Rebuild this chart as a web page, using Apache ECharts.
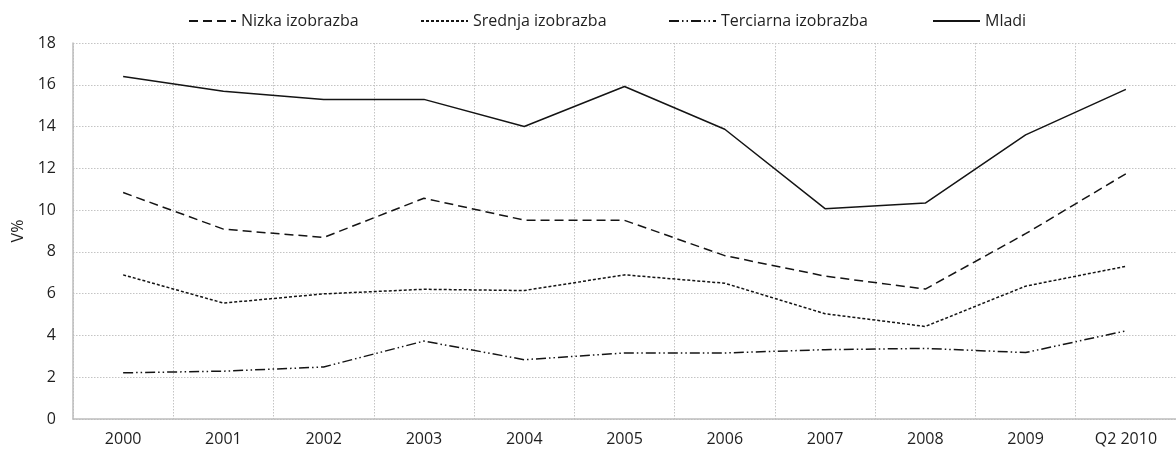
<!DOCTYPE html>
<html>
<head>
<meta charset="utf-8">
<script src="https://cdn.jsdelivr.net/npm/echarts@6/dist/echarts.min.js"></script>
<style>
  html, body { margin: 0; padding: 0; background: #fff; }
  #chart { width: 1176px; height: 454px; }
</style>
</head>
<body>
<div id="chart"></div>
<script>
// Categories along the x axis
const categories = ['2000', '2001', '2002', '2003', '2004', '2005', '2006', '2007', '2008', '2009', 'Q2 2010'];

// Unemployment rate by group, in %
const nizka = [10.84, 9.09, 8.69, 10.57, 9.52, 9.51, 7.82, 6.84, 6.22, 8.87, 11.74];
const srednja = [6.9, 5.55, 5.99, 6.21, 6.15, 6.9, 6.5, 5.04, 4.43, 6.36, 7.31];
const terciarna = [2.21, 2.29, 2.49, 3.73, 2.84, 3.16, 3.16, 3.32, 3.38, 3.18, 4.22];
const mladi = [16.4, 15.69, 15.3, 15.3, 14.0, 15.92, 13.87, 10.07, 10.34, 13.6, 15.78];

const seriesNames = ['Nizka izobrazba', 'Srednja izobrazba', 'Terciarna izobrazba', 'Mladi'];

const FONT = 'Open Sans';
const FS = 16;
const TEXT = '#1f1f1f';
const LINE = '#141414';
const GRID = '#c4c4c4';

// Left edge of each legend entry
const legendLeft = [188, 420, 668, 932];

function lineSeries(name, data, dash) {
  return {
    name: name,
    type: 'line',
    data: data,
    symbol: 'none',
    lineStyle: { color: LINE, width: 1.5, type: dash },
    itemStyle: { color: LINE },
    emphasis: { disabled: true }
  };
}

const legends = seriesNames.map((name, i) => ({
  top: 13,
  left: legendLeft[i],
  padding: 0,
  itemWidth: 47,
  itemHeight: 12,
  data: [name],
  itemStyle: { opacity: 0 },
  textStyle: { fontFamily: FONT, fontSize: FS, color: TEXT }
}));

const chart = echarts.init(document.getElementById('chart'), null, { renderer: 'canvas' });
chart.setOption({
  animation: false,
  textStyle: { fontFamily: FONT, color: TEXT },
  legend: legends,
  grid: { left: 73, right: 0, top: 43, bottom: 35, containLabel: false },
  xAxis: {
    type: 'category',
    data: categories,
    boundaryGap: true,
    axisLine: { lineStyle: { color: '#bdbdbd', width: 1.5 } },
    axisTick: { show: false },
    axisLabel: { fontFamily: FONT, fontSize: FS, color: TEXT, margin: 12 },
    splitLine: { show: true, lineStyle: { color: GRID, type: [1.5, 1.5], width: 1 } }
  },
  yAxis: {
    type: 'value',
    min: 0,
    max: 18,
    interval: 2,
    name: 'V%',
    nameLocation: 'middle',
    nameGap: 46,
    nameRotate: 90,
    nameTextStyle: { fontFamily: FONT, fontSize: FS, color: TEXT },
    axisLine: { show: true, lineStyle: { color: '#bdbdbd', width: 1.5 } },
    axisTick: { show: false },
    axisLabel: { fontFamily: FONT, fontSize: FS, color: TEXT, margin: 17 },
    splitLine: { show: true, lineStyle: { color: GRID, type: [1.5, 1.5], width: 1 } }
  },
  series: [
    lineSeries(seriesNames[0], nizka, [9, 5]),
    lineSeries(seriesNames[1], srednja, [3, 2]),
    lineSeries(seriesNames[2], terciarna, [10, 3, 1.5, 3, 1.5, 3]),
    lineSeries(seriesNames[3], mladi, 'solid')
  ]
});
</script>
</body>
</html>
